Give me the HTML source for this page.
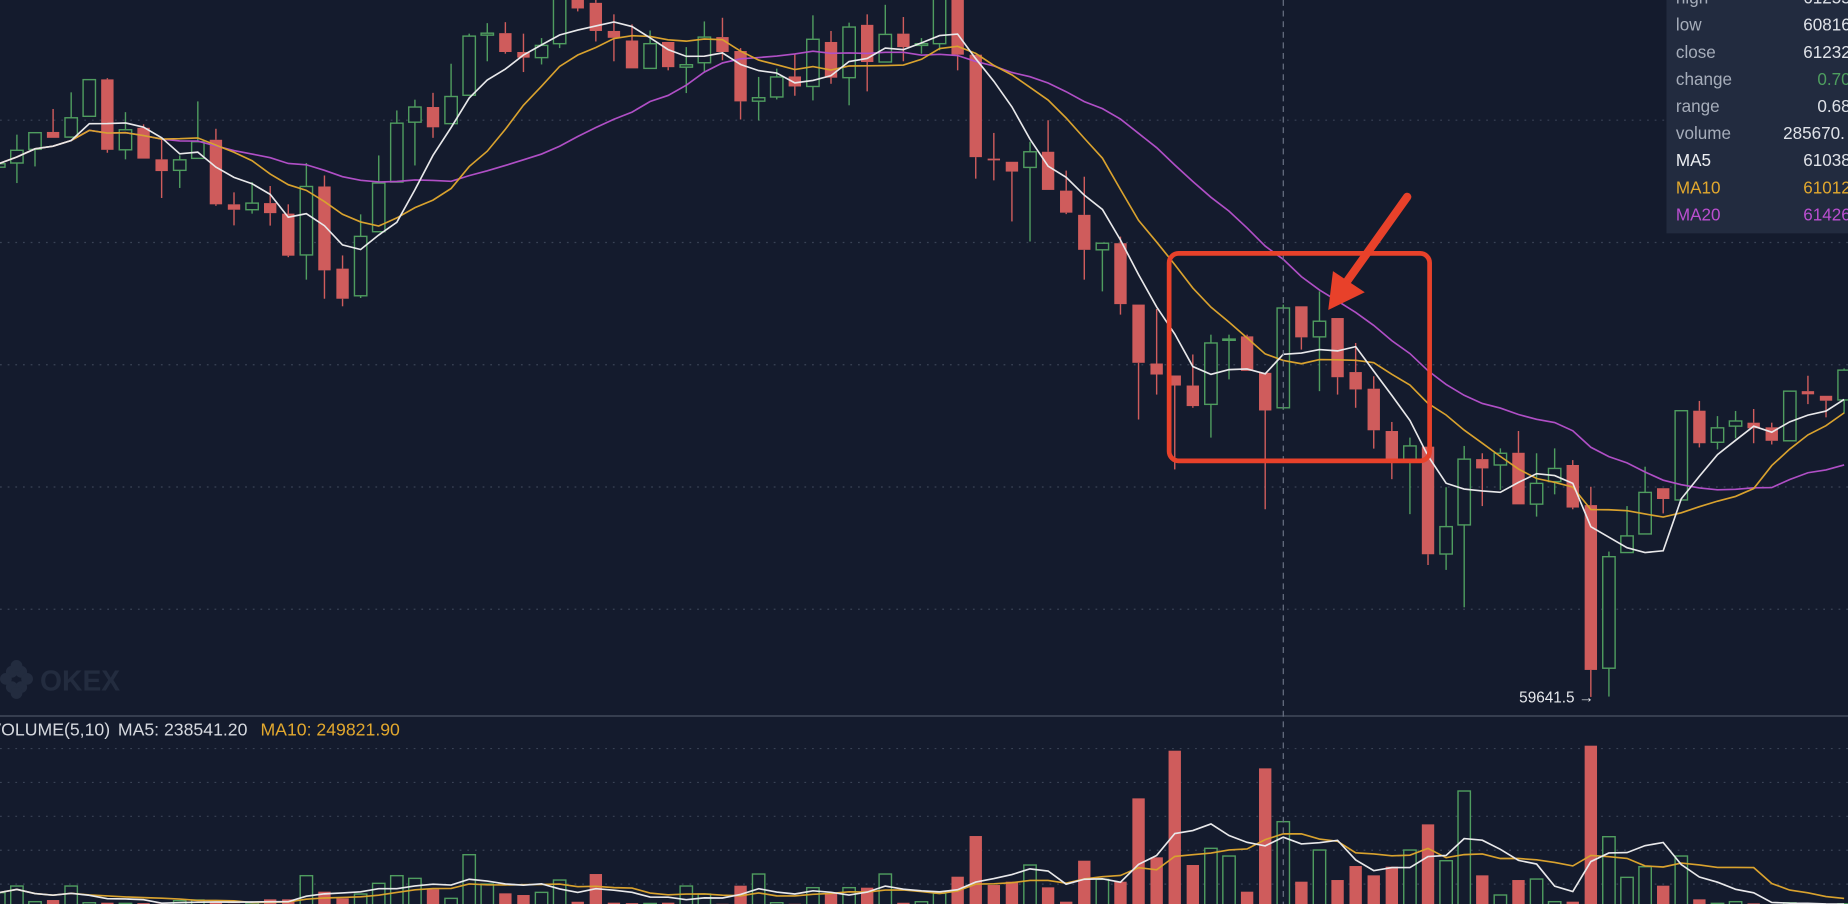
<!DOCTYPE html>
<html><head><meta charset="utf-8"><style>
html,body{margin:0;padding:0;background:#141b2d;overflow:hidden}
svg{display:block}
text{font-family:"Liberation Sans",sans-serif}
</style></head><body>
<svg id="chart" width="1848" height="904" viewBox="0 0 1568 767" preserveAspectRatio="none" xmlns="http://www.w3.org/2000/svg">
<rect x="0" y="0" width="1568" height="767" fill="#141b2d"/>
<g id="grid"></g>
<g id="vgrid"></g>
<g id="watermark" fill="#232c3f">
<circle cx="10" cy="570" r="5"/><circle cx="18" cy="570" r="5"/><circle cx="10" cy="583" r="5"/><circle cx="18" cy="583" r="5"/><circle cx="14" cy="565" r="5"/><circle cx="14" cy="588" r="5"/><circle cx="5" cy="576" r="5"/><circle cx="23" cy="576" r="5"/>
<text x="34" y="586" font-size="24" font-weight="bold" fill="#232c3f">OKEX</text>
</g>
<g id="candles"></g>
<g id="malines"></g>
<line x1="0" y1="607.5" x2="1568" y2="607.5" stroke="#3b4354" stroke-width="1.5"/>
<g id="vbars"></g>
<g id="vma"></g>
<line id="cross" x1="0" y1="0" x2="0" y2="767" stroke="#6b7385" stroke-width="1" stroke-dasharray="5,4"/>
<g font-size="15">
<text x="-9" y="624" fill="#d6d9df">VOLUME(5,10)</text>
<text x="100" y="624" fill="#d6d9df">MA5: 238541.20</text>
<text x="221" y="624" fill="#e2a82e">MA10: 249821.90</text>
</g>
<text x="1289" y="596" font-size="13" fill="#e6e8ec">59641.5 →</text>
<rect x="992" y="215" width="221" height="176" rx="8" fill="none" stroke="#e8412a" stroke-width="4"/>
<g>
<line x1="1194" y1="167" x2="1142" y2="240" stroke="#e8412a" stroke-width="7" stroke-linecap="round"/>
<polygon points="1127,263 1131,230 1158,248" fill="#e8412a"/>
</g>
<g>
<rect x="1414" y="-10" width="160" height="208" fill="#222b3f"/>
<g font-size="14.5" fill="#a6adba">
<text x="1422" y="3">high</text><text x="1422" y="26">low</text><text x="1422" y="49">close</text><text x="1422" y="72">change</text><text x="1422" y="95">range</text><text x="1422" y="118">volume</text>
<text x="1422" y="141" fill="#eceef2">MA5</text><text x="1422" y="164" fill="#e2a82e">MA10</text><text x="1422" y="187" fill="#bb4fd0">MA20</text>
</g>
<g font-size="14.5" fill="#dfe2e8">
<text x="1530" y="3">61255</text><text x="1530" y="26">60816</text><text x="1530" y="49">61232</text><text x="1542" y="72" fill="#4e9e5f">0.70</text><text x="1542" y="95">0.68</text><text x="1513" y="118">285670.</text>
<text x="1530" y="141">61038</text><text x="1530" y="164" fill="#e2a82e">61012</text><text x="1530" y="187" fill="#bb4fd0">61426</text>
</g>
</g>
</svg>
<script>
const opens=[61808,61825,61881,61952,61931,62016,62167,61879,61969,61840,61795,61844,61920,61656,61634,61661,61618,61449,61729,61393,61282,61544,61747,61992,62054,61986,62102,62348,62356,62279,62256,62313,62517,62480,62365,62326,62212,62320,62217,62235,62340,62283,62078,62095,62179,62138,62320,62174,62390,62238,62354,62306,62313,62504,62268,61843,61830,61807,61871,61712,61613,61470,61497,61246,61005,60956,60915,60838,61100,61116,60967,60824,61239,61114,61191,60970,60902,60729,60606,60665,60226,60345,60614,60590,60640,60430,60522,60590,60426,59759,60232,60308,60495,60447,60812,60683,60749,60763,60744,60689,60892,60873,60856];
const highs=[61836,61941,61949,62046,62114,62166,62172,62033,61983,61924,61856,62077,61965,61705,61747,61731,61656,61825,61774,61447,61615,61856,62040,62084,62112,62231,62354,62397,62401,62354,62336,62570,62540,62497,62433,62392,62367,62320,62299,62404,62419,62295,62177,62211,62269,62429,62365,62399,62433,62472,62422,62336,62560,62540,62268,61948,61830,61912,62000,61794,61769,61497,61524,61246,61228,60956,61042,61123,61123,61123,60967,61246,61239,61300,61191,61089,60953,60766,60702,60665,60499,60668,60638,60658,60729,60638,60658,60610,60501,60236,60422,60583,60495,60812,60852,60790,60811,60819,60763,60892,60955,60873,60985];
const lows=[61795,61743,61811,61928,61931,62016,61867,61840,61843,61682,61723,61844,61650,61570,61618,61569,61440,61348,61270,61239,61273,61544,61747,61815,61928,61986,62102,62241,62272,62197,62228,62295,62445,62322,62241,62212,62212,62204,62111,62197,62245,62003,61999,62085,62100,62081,62149,62061,62118,62238,62241,62272,62286,62204,61761,61754,61586,61504,61715,61616,61348,61300,61205,60776,60878,60572,60824,60702,60940,60975,60409,60816,61062,60892,60878,60824,60657,60532,60389,60181,60161,60008,60422,60488,60429,60379,60470,60409,59641.5,59643,60232,60308,60392,60447,60662,60654,60699,60679,60674,60689,60839,60785,60801];
const closes=[61822,61877,61949,61928,62010,62166,61879,61961,61843,61792,61838,61912,61656,61634,61661,61620,61446,61729,61386,61270,61525,61743,61988,62054,61971,62097,62344,62356,62279,62256,62306,62545,62457,62365,62337,62212,62313,62217,62227,62340,62279,62077,62092,62177,62138,62331,62174,62381,62238,62351,62299,62313,62530,62268,61849,61836,61790,61871,61715,61622,61470,61497,61248,61008,60960,60915,60831,61089,61105,60975,60813,61232,61112,61178,60949,60899,60732,60613,60668,60225,60338,60614,60576,60638,60429,60515,60576,60416,59752,60215,60300,60478,60451,60812,60679,60742,60770,60740,60689,60892,60879,60853,60978];
const volumes=[74700,94400,48200,53100,94400,45000,45200,43300,44000,42000,51100,53100,46000,42000,44000,55100,55100,124900,77700,58000,70800,102300,124900,117000,84600,58000,186800,100300,72800,67900,75700,112100,48000,129800,45200,44000,43000,45200,94400,70800,42000,95400,129800,45200,42000,89500,72800,89500,89500,129800,45000,48000,72800,121900,241900,97400,107200,156400,90500,48200,169100,114100,107200,353000,179000,493600,156400,205600,182900,77700,441500,284200,107200,200600,112100,153400,125900,151400,200600,276300,169100,374700,125900,67900,112100,115000,48200,48200,508400,239900,120000,151400,95400,182900,55100,43300,48200,43300,40000,45000,40000,38000,42000];
const priceGridTicks=[62000,61500,61000,60500,60000];
const volumeGridTicks=[100000,200000,300000,400000,500000];
const hoverIndex=71;

const NS='http://www.w3.org/2000/svg';
const xOf=i=>-1+15.35*i;
const yP=p=>102+(62000-p)/4.82;
const yV=v=>778.9-v/3477;
const GREEN='#4f9c5f',RED='#cf5c5c';
function mk(tag,attrs,parent){const e=document.createElementNS(NS,tag);for(const k in attrs)e.setAttribute(k,attrs[k]);parent.appendChild(e);return e;}

const grid=document.getElementById('grid');
priceGridTicks.forEach(t=>{
  const l=mk('line',{x1:0,x2:1568,y1:yP(t),y2:yP(t),stroke:'#3a4356','stroke-width':1,'stroke-dasharray':'1.5,5'},grid);
  
  
});
const vgrid=document.getElementById('vgrid');
volumeGridTicks.forEach(t=>{
  const l=mk('line',{x1:0,x2:1568,y1:yV(t),y2:yV(t),stroke:'#3a4356','stroke-width':1,'stroke-dasharray':'1.5,5'},vgrid);
  
  
});

const cg=document.getElementById('candles');
const bw=10.5;
closes.forEach((c,i)=>{
  const o=opens[i],up=c>=o,x=xOf(i);
  const g=mk('g',{},cg);
  
  
  const col=up?GREEN:RED;
  const top=yP(Math.max(o,c)),bot=yP(Math.min(o,c));
  mk('line',{x1:x,x2:x,y1:yP(highs[i]),y2:top,stroke:col,'stroke-width':1.2},g);
  mk('line',{x1:x,x2:x,y1:bot,y2:yP(lows[i]),stroke:col,'stroke-width':1.2},g);
  if(up) mk('rect',{x:x-bw/2,y:top,width:bw,height:Math.max(1,bot-top),fill:'#141b2d',stroke:col,'stroke-width':1.2},g);
  else mk('rect',{x:x-bw/2,y:top,width:bw,height:Math.max(1.5,bot-top),fill:col},g);
});

function ma(arr,n){return arr.map((_,i)=>{const s=Math.max(0,i-n+1);let t=0;for(let k=s;k<=i;k++)t+=arr[k];return t/(i-s+1);});}
function pathOf(vals,yf){return vals.map((v,i)=>(i?'L':'M')+xOf(i).toFixed(1)+','+yf(v).toFixed(1)).join(' ');}
const mg=document.getElementById('malines');
[[20,'#b04fc6','ma20-line'],[10,'#d9a22e','ma10-line'],[5,'#e8e8ea','ma5-line']].forEach(([n,col,name])=>{
  const p=mk('path',{d:pathOf(ma(closes,n),yP),fill:'none',stroke:col,'stroke-width':1.4},mg);
  
  
});

const vb=document.getElementById('vbars');
volumes.forEach((v,i)=>{
  const up=closes[i]>=opens[i],x=xOf(i),y=yV(v);
  const r=up?mk('rect',{x:x-bw/2,y:y,width:bw,height:780-y,fill:'#141b2d',stroke:GREEN,'stroke-width':1.2},vb)
            :mk('rect',{x:x-bw/2,y:y,width:bw,height:780-y,fill:RED},vb);
  
  
});
const vg=document.getElementById('vma');
[[10,'#d9a22e','volume-ma10-line'],[5,'#e8e8ea','volume-ma5-line']].forEach(([n,col,name])=>{
  const p=mk('path',{d:pathOf(ma(volumes,n),yV),fill:'none',stroke:col,'stroke-width':1.4},vg);
  
  
});
const cross=document.getElementById('cross');
cross.setAttribute('x1',xOf(hoverIndex));cross.setAttribute('x2',xOf(hoverIndex));
</script>
</body></html>
